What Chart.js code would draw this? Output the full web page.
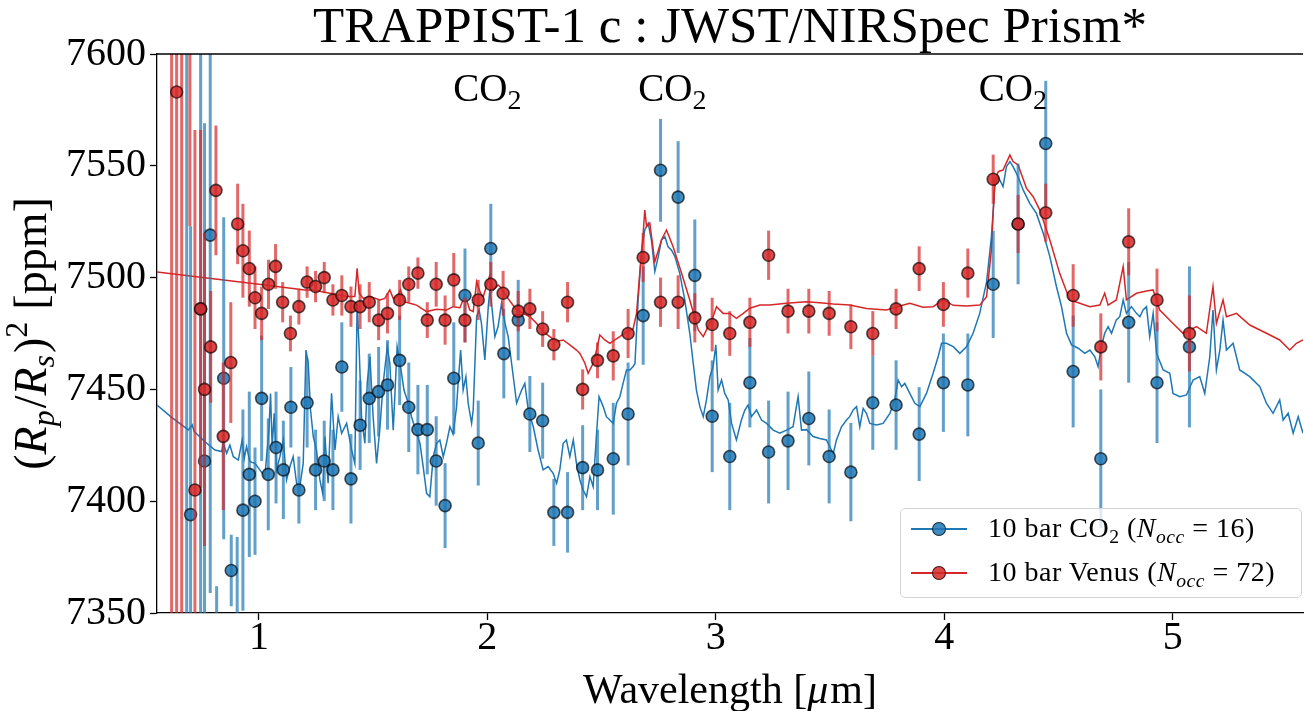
<!DOCTYPE html>
<html lang="en">
<head>
  <meta charset="UTF-8" />
  <title>TRAPPIST-1 c : JWST/NIRSpec Prism</title>
  <style>
    body { margin: 0; background: #fff; overflow: hidden; }
    #wrap { position: relative; width: 1305px; height: 711px; }
    canvas { display: block; }
    #legend {
      position: absolute; left: 900px; top: 508px; width: 402px; height: 90px;
      box-sizing: border-box; border: 1.5px solid #d4d4d4; border-radius: 5px;
      background: rgba(255,255,255,0.8);
      font-family: 'Liberation Serif', serif; font-size: 28px; color: #000;
    }
    .row { position: absolute; left: 0; height: 40px; width: 100%; }
    .row .ln { position: absolute; left: 10px; top: 19px; width: 56px; height: 2px; }
    .row .dot { position: absolute; left: 31px; top: 13px; width: 12px; height: 12px;
      border-radius: 50%; border: 1.5px solid rgba(0,0,0,0.7); }
    .row .txt { position: absolute; left: 87px; top: 3px; white-space: nowrap; line-height: 32px; letter-spacing: 0.5px; }
    sub { font-size: 70%; line-height: 0; vertical-align: -0.3em; }
  </style>
</head>
<body>
<div id="wrap">
  <canvas id="chart" width="1305" height="711"></canvas>
  <div id="legend">
    <div class="row" style="top:0px">
      <span class="ln" style="background:#1f77b4"></span>
      <span class="dot" style="background:rgba(31,119,180,0.85)"></span>
      <span class="txt">10 bar CO<sub>2</sub> (<i>N<sub>occ</sub></i> = 16)</span>
    </div>
    <div class="row" style="top:44px">
      <span class="ln" style="background:#d62728"></span>
      <span class="dot" style="background:rgba(214,39,40,0.85)"></span>
      <span class="txt">10 bar Venus (<i>N<sub>occ</sub></i> = 72)</span>
    </div>
  </div>
</div>

<script src="https://cdn.jsdelivr.net/npm/chart.js"></script>
<script>
  const SERIF = "'Liberation Serif', 'DejaVu Serif', serif";

  // axis ticks
  const xTickValues = [1, 2, 3, 4, 5];
  const yTickValues = [7350, 7400, 7450, 7500, 7550, 7600];

  // observed spectrum, 10 bar Venus (wavelength um, depth ppm, 1-sigma ppm)
  const venusWave = [0.618, 0.640, 0.662, 0.698, 0.720, 0.745, 0.762, 0.789, 0.812, 0.844, 0.877, 0.907,
    0.930, 0.958, 0.983, 1.012, 1.042, 1.073, 1.104, 1.138, 1.175, 1.211, 1.248, 1.286, 1.324, 1.363,
    1.403, 1.443, 1.483, 1.524, 1.563, 1.616, 1.656, 1.696, 1.737, 1.776, 1.815, 1.853, 1.902, 1.960,
    2.015, 2.069, 2.135, 2.186, 2.242, 2.291, 2.351, 2.417, 2.482, 2.551, 2.616, 2.682, 2.758, 2.835,
    2.908, 2.984, 3.061, 3.149, 3.231, 3.316, 3.407, 3.496, 3.591, 3.687, 3.789, 3.890, 3.996, 4.103,
    4.214, 4.323, 4.444, 4.564, 4.685, 4.807, 4.931, 5.073];
  const venusDepth = [7330, 7583, 7640, 7640, 7405, 7486, 7450, 7469, 7539, 7429, 7462, 7524,
    7512, 7504, 7491, 7484, 7497, 7505, 7489, 7475, 7487, 7498, 7496, 7500, 7490, 7492,
    7487, 7487, 7489, 7481, 7484, 7490, 7497, 7502, 7481, 7497, 7481, 7499, 7481, 7490,
    7497, 7493, 7485, 7486, 7477, 7470, 7489, 7450, 7463, 7465, 7475, 7509, 7489, 7489,
    7482, 7479, 7475, 7480, 7510, 7485, 7485, 7484, 7478, 7475, 7486, 7504, 7488, 7502,
    7544, 7524, 7529, 7492, 7469, 7516, 7490, 7475];
  const venusErr = [300, 300, 320, 117, 161, 80, 70, 25, 29, 33, 27, 18,
    21, 17, 14, 12, 11, 10, 9, 8, 8, 7, 7, 7, 7, 9,
    9, 10, 9, 9, 9, 9, 8, 7, 8, 10, 11, 12, 10, 9,
    10, 10, 9, 9, 8, 7, 9, 9, 8, 11, 11, 11, 11, 12,
    11, 12, 10, 11, 11, 10, 10, 10, 10, 10, 9, 10, 10, 11,
    11, 13, 13, 14, 15, 15, 14, 17];

  // observed spectrum, 10 bar CO2
  const co2Wave = [0.684, 0.701, 0.745, 0.762, 0.787, 0.815, 0.846, 0.879, 0.905, 0.930, 0.958, 0.983,
    1.012, 1.041, 1.075, 1.107, 1.140, 1.175, 1.211, 1.248, 1.286, 1.324, 1.363, 1.403, 1.443, 1.483,
    1.524, 1.563, 1.616, 1.656, 1.696, 1.737, 1.776, 1.815, 1.853, 1.902, 1.960, 2.015, 2.072, 2.135,
    2.186, 2.242, 2.291, 2.351, 2.417, 2.482, 2.551, 2.616, 2.682, 2.758, 2.835, 2.908, 2.984, 3.061,
    3.149, 3.231, 3.316, 3.407, 3.496, 3.591, 3.687, 3.789, 3.890, 3.996, 4.103, 4.214, 4.323, 4.444,
    4.564, 4.685, 4.807, 4.931, 5.073];
  const co2Depth = [7650, 7394, 7486, 7418, 7519, 7310, 7455, 7369, 7330, 7396, 7412, 7400,
    7446, 7412, 7424, 7414, 7442, 7405, 7444, 7414, 7418, 7414, 7460, 7410, 7434, 7446,
    7449, 7452, 7463, 7442, 7432, 7432, 7418, 7398, 7455, 7492, 7426, 7513, 7466, 7481,
    7439, 7436, 7395, 7395, 7415, 7414, 7419, 7439, 7483, 7548, 7536, 7501, 7438, 7420,
    7453, 7422, 7427, 7437, 7420, 7413, 7444, 7443, 7430, 7453, 7452, 7497, 7524, 7560,
    7458, 7419, 7480, 7453, 7469];
  const co2Err = [320, 129, 160, 151, 160, 52, 72, 16, 54, 45, 37, 24,
    28, 25, 25, 22, 18, 15, 20, 18, 18, 18, 20, 20, 20, 20,
    20, 20, 20, 20, 20, 20, 20, 19, 25, 21, 19, 20, 20, 18,
    17, 17, 15, 18, 19, 18, 25, 23, 22, 23, 25, 25, 25, 24,
    20, 23, 22, 21, 21, 22, 21, 20, 21, 22, 23, 24, 27, 28,
    25, 31, 27, 27, 36];

  // forward models
  const co2ModelWave = [0.554, 0.618, 0.691, 0.708, 0.717, 0.764, 0.808, 0.837, 0.844, 0.859, 0.873, 0.888,
    0.910, 0.927, 0.936, 0.946, 0.961, 0.983, 1.004, 1.026, 1.044, 1.051, 1.058, 1.067, 1.077, 1.092,
    1.107, 1.121, 1.136, 1.150, 1.165, 1.179, 1.194, 1.206, 1.216, 1.226, 1.238, 1.252, 1.267, 1.279,
    1.289, 1.303, 1.318, 1.333, 1.347, 1.362, 1.384, 1.406, 1.420, 1.430, 1.439, 1.449, 1.464, 1.474,
    1.486, 1.500, 1.515, 1.530, 1.544, 1.562, 1.573, 1.588, 1.605, 1.620, 1.635, 1.654, 1.668, 1.690,
    1.705, 1.719, 1.734, 1.748, 1.763, 1.778, 1.792, 1.807, 1.821, 1.836, 1.850, 1.865, 1.872, 1.883,
    1.894, 1.906, 1.916, 1.931, 1.938, 1.953, 1.964, 1.974, 1.989, 2.004, 2.011, 2.018, 2.033, 2.047,
    2.062, 2.077, 2.091, 2.106, 2.128, 2.150, 2.164, 2.179, 2.201, 2.222, 2.244, 2.266, 2.288, 2.303,
    2.317, 2.332, 2.346, 2.361, 2.376, 2.390, 2.405, 2.419, 2.434, 2.449, 2.463, 2.478, 2.489, 2.507,
    2.521, 2.536, 2.551, 2.565, 2.580, 2.594, 2.609, 2.624, 2.638, 2.646, 2.660, 2.675, 2.689, 2.704,
    2.718, 2.733, 2.748, 2.762, 2.777, 2.791, 2.806, 2.821, 2.842, 2.864, 2.886, 2.901, 2.915, 2.930,
    2.945, 2.959, 2.974, 2.988, 3.000, 3.010, 3.025, 3.039, 3.054, 3.069, 3.090, 3.112, 3.127, 3.141,
    3.156, 3.178, 3.200, 3.222, 3.251, 3.280, 3.309, 3.338, 3.360, 3.375, 3.397, 3.426, 3.455, 3.484,
    3.506, 3.514, 3.528, 3.550, 3.572, 3.586, 3.601, 3.616, 3.630, 3.645, 3.659, 3.674, 3.703, 3.732,
    3.762, 3.783, 3.798, 3.813, 3.827, 3.849, 3.871, 3.893, 3.922, 3.951, 3.973, 3.988, 4.009, 4.039,
    4.068, 4.097, 4.126, 4.155, 4.185, 4.206, 4.221, 4.236, 4.257, 4.272, 4.287, 4.301, 4.323, 4.345,
    4.374, 4.403, 4.433, 4.462, 4.491, 4.513, 4.535, 4.557, 4.586, 4.615, 4.637, 4.659, 4.673, 4.688,
    4.702, 4.717, 4.732, 4.753, 4.768, 4.783, 4.797, 4.819, 4.841, 4.856, 4.870, 4.885, 4.899, 4.914,
    4.929, 4.958, 4.987, 5.001, 5.031, 5.060, 5.089, 5.118, 5.140, 5.162, 5.176, 5.191, 5.206, 5.220,
    5.235, 5.264, 5.293, 5.337, 5.381, 5.410, 5.439, 5.468, 5.483, 5.505, 5.527, 5.549, 5.570];
  const co2ModelDepth = [7443, 7437.5, 7431.9, 7434.1, 7431.1, 7426.6, 7422.9, 7422.2, 7425.9, 7421.4, 7425.1, 7419.9,
    7418.4, 7427.4, 7419.2, 7424.4, 7417.7, 7416.9, 7414.0, 7411.0, 7431.9, 7448.2, 7424.4, 7439.3, 7414.0, 7419.9,
    7427.4, 7409.5, 7415.5, 7419.9, 7408.0, 7406.5, 7416.9, 7467.6, 7461.7, 7440.8, 7428.9, 7422.9, 7409.5, 7403.5,
    7428.9, 7408.0, 7448.3, 7422.9, 7437.8, 7430.4, 7434.8, 7422.9, 7416.9, 7488.5, 7467.6, 7437.8, 7425.9, 7452.7,
    7464.6, 7437.8, 7416.9, 7433.3, 7452.7, 7469.1, 7461.7, 7431.8, 7469.1, 7460.2, 7449.7, 7443.8, 7437.8, 7430.4,
    7425.9, 7415.5, 7403.5, 7402.0, 7419.9, 7425.9, 7427.4, 7419.9, 7425.9, 7433.3, 7430.0, 7442.0, 7452.7, 7467.6,
    7449.7, 7455.7, 7443.8, 7434.8, 7440.8, 7482.5, 7485.5, 7479.6, 7463.2, 7487.0, 7494.5, 7488.5, 7473.6, 7478.1,
    7488.5, 7479.6, 7473.6, 7461.7, 7443.8, 7449.7, 7452.7, 7440.8, 7433.3, 7422.9, 7414.0, 7415.5, 7412.5, 7408.0,
    7414.0, 7425.9, 7427.4, 7419.9, 7427.4, 7416.9, 7409.5, 7405.0, 7402.0, 7411.0, 7406.5, 7430.4, 7446.7, 7442.3,
    7437.8, 7436.3, 7434.8, 7443.8, 7446.7, 7452.7, 7458.7, 7458.7, 7460.2, 7461.6, 7490.0, 7512.4, 7521.3, 7524.3,
    7516.8, 7502.7, 7509.4, 7516.8, 7518.3, 7513.8, 7512.3, 7509.4, 7501.9, 7490.0, 7475.1, 7461.7, 7449.7, 7442.3,
    7437.8, 7445.3, 7455.7, 7460.2, 7469.9, 7449.7, 7454.2, 7448.2, 7445.3, 7434.8, 7427.4, 7436.3, 7440.8, 7443.0,
    7437.8, 7440.8, 7436.3, 7434.8, 7431.8, 7430.4, 7431.8, 7433.3, 7446.8, 7431.8, 7432.0, 7428.9, 7428.0, 7427.4,
    7422.9, 7421.4, 7427.4, 7433.3, 7436.3, 7437.8, 7440.8, 7442.3, 7433.3, 7441.5, 7439.3, 7434.8, 7434.1, 7434.8,
    7439.3, 7445.3, 7454.2, 7451.2, 7452.7, 7448.2, 7443.8, 7442.3, 7448.2, 7457.2, 7464.6, 7470.6, 7470.6, 7469.1,
    7466.1, 7469.1, 7475.1, 7484.0, 7498.0, 7518.0, 7540.7, 7545.1, 7540.7, 7549.6, 7551.9, 7549.6, 7545.1, 7539.2,
    7533.2, 7528.7, 7519.8, 7509.4, 7495.9, 7487.0, 7475.1, 7469.9, 7468.4, 7466.1, 7467.6, 7464.6, 7460.2, 7469.1,
    7475.1, 7478.1, 7475.1, 7481.1, 7482.5, 7490.0, 7484.0, 7487.0, 7484.0, 7482.5, 7485.5, 7487.0, 7473.6, 7484.0,
    7466.1, 7458.7, 7457.2, 7448.2, 7446.7, 7447.5, 7454.2, 7455.7, 7448.2, 7464.6, 7485.5, 7458.7, 7467.6, 7481.0,
    7467.6, 7470.6, 7458.7, 7455.7, 7451.2, 7443.8, 7439.3, 7445.3, 7436.3, 7439.3, 7430.4, 7437.8, 7430.4];

  const venusModelWave = [0.554, 0.800, 1.000, 1.201, 1.238, 1.311, 1.384, 1.420, 1.430, 1.439, 1.457, 1.486,
    1.530, 1.551, 1.573, 1.588, 1.605, 1.620, 1.635, 1.661, 1.690, 1.734, 1.778, 1.821, 1.850, 1.880,
    1.902, 1.923, 1.938, 1.953, 1.970, 1.982, 2.011, 2.026, 2.047, 2.062, 2.084, 2.106, 2.128, 2.157,
    2.186, 2.215, 2.244, 2.273, 2.303, 2.332, 2.361, 2.390, 2.405, 2.427, 2.441, 2.463, 2.478, 2.492,
    2.514, 2.536, 2.558, 2.580, 2.609, 2.638, 2.653, 2.667, 2.682, 2.689, 2.697, 2.711, 2.733, 2.762,
    2.784, 2.813, 2.850, 2.886, 2.923, 2.945, 2.966, 2.988, 3.003, 3.032, 3.061, 3.090, 3.120, 3.149,
    3.193, 3.236, 3.309, 3.397, 3.455, 3.514, 3.586, 3.659, 3.747, 3.805, 3.849, 3.907, 3.951, 3.995,
    4.039, 4.097, 4.155, 4.185, 4.206, 4.221, 4.236, 4.257, 4.287, 4.301, 4.323, 4.360, 4.389, 4.418,
    4.462, 4.505, 4.549, 4.593, 4.637, 4.681, 4.702, 4.717, 4.753, 4.783, 4.797, 4.841, 4.885, 4.914,
    4.943, 5.001, 5.045, 5.104, 5.147, 5.176, 5.191, 5.220, 5.235, 5.279, 5.337, 5.410, 5.468, 5.512,
    5.541, 5.570];
  const venusModelDepth = [7502.5, 7499.5, 7497.0, 7494.5, 7494.5, 7493.0, 7491.5, 7491.5, 7504.1, 7493.0, 7490.7, 7491.5,
    7490.0, 7490.7, 7494.5, 7490.7, 7491.5, 7494.5, 7489.2, 7488.5, 7487.7, 7484.8, 7485.8, 7485.5, 7487.0, 7486.5,
    7492.2, 7485.5, 7484.8, 7498.2, 7493.0, 7491.5, 7501.2, 7494.5, 7496.7, 7495.2, 7491.5, 7488.5, 7485.5, 7484.0,
    7482.5, 7479.6, 7475.8, 7473.6, 7471.4, 7472.1, 7469.9, 7467.6, 7466.1, 7461.7, 7457.2, 7461.7, 7467.6, 7474.3,
    7472.1, 7470.6, 7472.1, 7473.6, 7475.8, 7477.0, 7484.0, 7501.9, 7519.8, 7530.2, 7522.8, 7524.3, 7507.1, 7516.8,
    7521.3, 7513.8, 7501.9, 7490.0, 7476.6, 7473.6, 7478.1, 7482.5, 7487.0, 7484.0, 7484.0, 7481.8, 7484.0, 7486.3,
    7487.7, 7487.7, 7488.5, 7489.2, 7488.8, 7488.2, 7487.7, 7486.2, 7485.5, 7487.3, 7488.5, 7486.7, 7487.0, 7490.0,
    7487.6, 7487.3, 7487.7, 7491.5, 7512.3, 7543.6, 7547.4, 7548.1, 7554.8, 7551.9, 7550.4, 7539.9, 7536.2, 7530.2,
    7516.8, 7501.9, 7490.0, 7488.5, 7487.0, 7487.7, 7493.0, 7487.7, 7490.0, 7504.9, 7490.0, 7493.0, 7494.0, 7494.5,
    7485.5, 7479.5, 7475.1, 7478.1, 7475.1, 7495.9, 7479.5, 7490.0, 7482.5, 7484.0, 7478.8, 7475.1, 7472.1, 7467.6,
    7470.6, 7472.1];

  // CO2 band annotations
  const bandLabelWave = [2.0, 2.81, 4.3];
  const bandLabelLevel = 7585;

  const pts = (xs, ys) => xs.map((x, i) => ({ x: x, y: ys[i] }));

  // vertical error bars drawn through the scales, under each dataset's markers
  const errorBars = {
    id: 'errorBars',
    beforeDatasetDraw(chart, args) {
      const ds = chart.data.datasets[args.index];
      if (!ds.errors) return;
      const { ctx, chartArea: a, scales: { x, y } } = chart;
      ctx.save();
      ctx.beginPath();
      ctx.rect(a.left, a.top, a.right - a.left, a.bottom - a.top);
      ctx.clip();
      ctx.strokeStyle = ds.errorColor;
      ctx.lineWidth = 3;
      ds.data.forEach((p, i) => {
        const px = x.getPixelForValue(p.x);
        ctx.beginPath();
        ctx.moveTo(px, y.getPixelForValue(p.y - ds.errors[i]));
        ctx.lineTo(px, y.getPixelForValue(p.y + ds.errors[i]));
        ctx.stroke();
      });
      ctx.restore();
    }
  };

  // draws a run of text pieces with their own style / baseline shift
  function richText(ctx, parts, x, y) {
    let w = 0;
    parts.forEach(p => {
      ctx.font = (p.it ? 'italic ' : '') + p.size + 'px ' + SERIF;
      p.w = ctx.measureText(p.t).width + (p.gap || 0);
      w += p.w;
    });
    let cx = x - w / 2;
    parts.forEach(p => {
      ctx.font = (p.it ? 'italic ' : '') + p.size + 'px ' + SERIF;
      ctx.fillText(p.t, cx, y + (p.dy || 0));
      cx += p.w;
    });
  }

  const decorations = {
    id: 'decorations',
    afterDraw(chart) {
      const { ctx, chartArea: a, scales: { x, y } } = chart;
      ctx.save();
      // top spine
      ctx.strokeStyle = '#000';
      ctx.lineWidth = 1.3;
      ctx.beginPath();
      ctx.moveTo(a.left, a.top);
      ctx.lineTo(a.right, a.top);
      ctx.stroke();

      ctx.fillStyle = '#000';
      ctx.textAlign = 'left';
      ctx.textBaseline = 'alphabetic';

      bandLabelWave.forEach(w => {
        richText(ctx, [
          { t: 'CO', size: 39 },
          { t: '2', size: 28, dy: 8 }
        ], x.getPixelForValue(w), y.getPixelForValue(bandLabelLevel) + 13);
      });

      // x axis title
      richText(ctx, [
        { t: 'Wavelength [', size: 42 },
        { t: 'μ', size: 42, it: true, gap: 2 },
        { t: 'm]', size: 42 }
      ], (a.left + a.right) / 2, 703);

      // y axis title, rotated
      ctx.translate(46, (a.top + a.bottom) / 2);
      ctx.rotate(-Math.PI / 2);
      richText(ctx, [
        { t: '(', size: 46 },
        { t: 'R', size: 46, it: true },
        { t: 'p', size: 32, it: true, dy: 8, gap: 2 },
        { t: '/', size: 46 },
        { t: 'R', size: 46, it: true },
        { t: 's', size: 32, it: true, dy: 8, gap: 2 },
        { t: ')', size: 46 },
        { t: '2', size: 32, dy: -19, gap: 12 },
        { t: '[ppm]', size: 46 }
      ], 0, 0);
      ctx.restore();
    }
  };

  const tickFont = { family: SERIF, size: 40 };

  new Chart(document.getElementById('chart'), {
    type: 'scatter',
    data: {
      datasets: [
        {
          label: '10 bar Venus (N_occ = 72)',
          data: pts(venusWave, venusDepth),
          errors: venusErr,
          errorColor: 'rgba(214,39,40,0.7)',
          backgroundColor: 'rgba(214,39,40,0.85)',
          borderColor: 'rgba(0,0,0,0.65)',
          borderWidth: 1.6,
          pointRadius: 6,
          clip: 0,
          order: 0
        },
        {
          label: '10 bar CO2 (N_occ = 16)',
          data: pts(co2Wave, co2Depth),
          errors: co2Err,
          errorColor: 'rgba(31,119,180,0.7)',
          backgroundColor: 'rgba(31,119,180,0.85)',
          borderColor: 'rgba(0,0,0,0.65)',
          borderWidth: 1.6,
          pointRadius: 6,
          clip: 0,
          order: 1
        },
        {
          type: 'line',
          label: 'Venus model',
          data: pts(venusModelWave, venusModelDepth),
          borderColor: '#d62728',
          borderWidth: 1.5,
          pointRadius: 0,
          tension: 0,
          fill: false,
          clip: 0,
          order: 2
        },
        {
          type: 'line',
          label: 'CO2 model',
          data: pts(co2ModelWave, co2ModelDepth),
          borderColor: '#1f77b4',
          borderWidth: 1.5,
          pointRadius: 0,
          tension: 0,
          fill: false,
          clip: 0,
          order: 3
        }
      ]
    },
    options: {
      responsive: false,
      animation: false,
      events: [],
      layout: { autoPadding: false, padding: { left: 0, right: 2, top: 0, bottom: 0 } },
      plugins: {
        legend: { display: false },
        tooltip: { enabled: false },
        title: {
          display: true,
          fullSize: false,
          text: 'TRAPPIST-1 c : JWST/NIRSpec Prism*',
          color: '#000',
          font: { family: SERIF, size: 51, weight: 'normal', lineHeight: 1 },
          padding: { top: 3, bottom: 0 }
        }
      },
      scales: {
        x: {
          type: 'linear',
          min: 0.554,
          max: 5.57,
          afterBuildTicks: s => { s.ticks = xTickValues.map(v => ({ value: v })); },
          afterFit: s => { s.height = 98; },
          ticks: { font: tickFont, color: '#000', padding: -6, maxRotation: 0, autoSkip: false,
            callback: v => String(v) },
          grid: { drawOnChartArea: false, drawTicks: true, tickLength: 7, tickColor: '#000', tickWidth: 1.3 },
          border: { display: true, color: '#000', width: 1.3 }
        },
        y: {
          type: 'linear',
          min: 7350,
          max: 7600,
          afterBuildTicks: s => { s.ticks = yTickValues.map(v => ({ value: v })); },
          afterFit: s => { s.width = 157; },
          ticks: { font: tickFont, color: '#000', padding: 4, autoSkip: false,
            callback: v => String(v) },
          grid: { drawOnChartArea: false, drawTicks: true, tickLength: 7, tickColor: '#000', tickWidth: 1.3 },
          border: { display: true, color: '#000', width: 1.3 }
        }
      }
    },
    plugins: [errorBars, decorations]
  });
</script>
</body>
</html>
